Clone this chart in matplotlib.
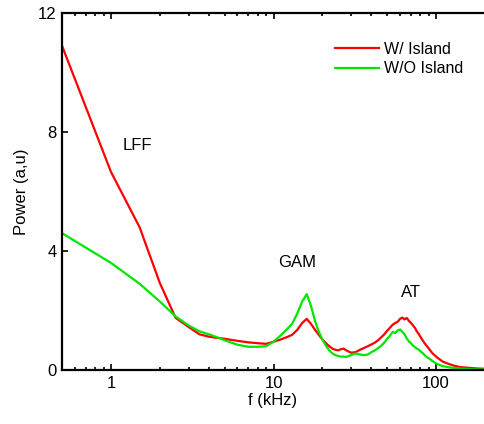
import matplotlib
matplotlib.use('Agg')
import matplotlib.pyplot as plt

plt.rcParams['font.family'] = ['Liberation Sans', 'DejaVu Sans']

# spectrum, 0.5 kHz step at low f, coarser higher up
freq = [0.5, 1, 1.5, 2, 2.5, 3, 3.5, 4, 4.5, 5, 6, 7, 8, 9, 10, 11, 12, 13, 14, 15,
        16, 17, 18, 19, 20, 21, 22, 23, 24, 25, 26, 27, 28, 29, 30, 32, 34, 36, 38, 40,
        42, 44, 46, 48, 50, 52, 54, 56, 58, 60, 62, 64, 66, 68, 70, 72, 74, 76, 78, 80,
        83, 86, 89, 92, 95, 100, 105, 110, 120, 130, 140, 160, 180, 200]

p_island = [10.9, 6.66, 4.8, 2.92, 1.75, 1.45, 1.2, 1.12, 1.08, 1.05, 0.98, 0.93, 0.9, 0.88, 0.95,
            1.02, 1.1, 1.18, 1.35, 1.58, 1.72, 1.55, 1.35, 1.18, 1.02, 0.9, 0.8, 0.72, 0.68, 0.66,
            0.7, 0.72, 0.66, 0.62, 0.58, 0.6, 0.68, 0.74, 0.8, 0.86, 0.92, 1.0, 1.1, 1.2, 1.32,
            1.42, 1.52, 1.58, 1.62, 1.72, 1.76, 1.7, 1.75, 1.65, 1.58, 1.5, 1.42, 1.3, 1.22, 1.12,
            0.98, 0.86, 0.76, 0.66, 0.56, 0.45, 0.36, 0.28, 0.2, 0.14, 0.1, 0.07, 0.05, 0.04]

p_no_island = [4.6, 3.6, 2.9, 2.3, 1.8, 1.5, 1.3, 1.2, 1.1, 1.0, 0.85, 0.78, 0.78, 0.8, 0.95,
               1.15, 1.35, 1.55, 1.9, 2.3, 2.55, 2.15, 1.65, 1.28, 1.02, 0.82, 0.66, 0.56, 0.5, 0.47,
               0.45, 0.45, 0.44, 0.47, 0.5, 0.56, 0.52, 0.5, 0.52, 0.6, 0.66, 0.74, 0.82, 0.92, 1.05,
               1.15, 1.28, 1.24, 1.33, 1.36, 1.28, 1.2, 1.06, 0.96, 0.9, 0.82, 0.77, 0.72, 0.69, 0.63,
               0.56, 0.47, 0.41, 0.36, 0.3, 0.22, 0.17, 0.13, 0.09, 0.07, 0.05, 0.03, 0.02, 0.02]

series_names = ['W/ Island', 'W/O Island']
peak_labels = ['LFF', 'GAM', 'AT']
peak_pos = [(1.46, 7.55), (14.0, 3.6), (70, 2.6)]

fig = plt.figure(figsize=(4.84, 4.24), dpi=100)
ax = fig.add_axes([62 / 484, 54 / 424, 422 / 484, 357 / 424])

ax.plot(freq, p_island, color='#ff0000', lw=1.6, label=series_names[0])
ax.plot(freq, p_no_island, color='#00e600', lw=1.6, label=series_names[1])

ax.set_xscale('log')
ax.set_xlim(0.5, 197)
ax.set_ylim(0, 12)
ax.set_yticks([0, 4, 8, 12])
ax.set_xticks([1, 10, 100])
ax.set_xticklabels(['1', '10', '100'])

ax.spines['right'].set_visible(False)
for s in ['left', 'top', 'bottom']:
    ax.spines[s].set_linewidth(1.6)
ax.tick_params(which='both', direction='in', top=True, right=False, labelsize=12, width=1.2)
ax.tick_params(which='major', length=4, pad=4)
ax.tick_params(which='minor', length=2.5)

ax.set_xlabel('f (kHz)', fontsize=12, labelpad=2)
ax.set_ylabel('Power (a,u)', fontsize=12, labelpad=6)

for lab, (x, y) in zip(peak_labels, peak_pos):
    ax.text(x, y, lab, fontsize=12, ha='center', va='center')

ax.legend(frameon=False, loc='upper left', bbox_to_anchor=(0.612, 0.96), fontsize=11.5,
          handlelength=2.8, handletextpad=0.3, labelspacing=0.3)

fig.savefig('out.png', dpi=100)
